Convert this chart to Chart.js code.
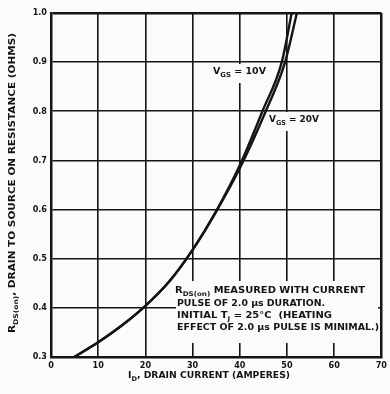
<!DOCTYPE html>
<html>
<head>
<meta charset="utf-8">
<script src="https://cdn.jsdelivr.net/npm/chart.js@4.4.0/dist/chart.umd.min.js"></script>
<style>
  html, body { margin: 0; padding: 0; background: #fbfbfb; }
  #wrap { width: 390px; height: 394px; position: relative; }
</style>
</head>
<body>
<div id="wrap"><canvas id="rdsChart"></canvas></div>
<script>
// axis ranges
const currentTicks = [0, 10, 20, 30, 40, 50, 60, 70];
const resistanceTicks = [0.3, 0.4, 0.5, 0.6, 0.7, 0.8, 0.9, 1.0];

// VGS = 10V curve (amps, ohms)
const current10V = [4.9, 10, 15, 20, 25, 30, 35, 40, 44.8, 48.9, 51.0];
const rds10V = [0.30, 0.330, 0.364, 0.404, 0.453, 0.518, 0.597, 0.690, 0.800, 0.900, 1.00];

// VGS = 20V curve
const current20V = [4.9, 10, 15, 20, 25, 30, 35, 40, 45.5, 49.6, 52.1];
const rds20V = [0.30, 0.330, 0.364, 0.404, 0.453, 0.518, 0.596, 0.684, 0.800, 0.900, 1.00];

const noteLines = [
  [{ t: 'R' }, { t: 'DS(on)', sub: true }, { t: ' MEASURED WITH CURRENT' }],
  [{ t: 'PULSE OF 2.0 \u00b5s DURATION.' }],
  [{ t: 'INITIAL T' }, { t: 'J', sub: true }, { t: ' = 25\u00b0C  (HEATING' }],
  [{ t: 'EFFECT OF 2.0 \u00b5s PULSE IS MINIMAL.)' }]
];

const FONT = '"DejaVu Sans Condensed", "Liberation Sans Narrow", sans-serif';
const INK = '#141414';
const PAPER = '#fbfbfb';

function toPoints(xs, ys) {
  return xs.map((x, i) => ({ x: x, y: ys[i] }));
}

// text with subscripts, squeezed or stretched to a target width
function drawRich(ctx, parts, x, y, size, width, align) {
  let w = 0;
  parts.forEach(p => {
    ctx.font = 'bold ' + (p.sub ? size * 0.72 : size) + 'px ' + FONT;
    w += ctx.measureText(p.t).width;
  });
  const sx = width ? width / w : 1;
  ctx.save();
  ctx.translate(align === 'center' ? x - (w * sx) / 2 : x, y);
  ctx.scale(sx, 1);
  ctx.fillStyle = INK;
  ctx.textBaseline = 'middle';
  ctx.textAlign = 'left';
  let cx = 0;
  parts.forEach(p => {
    ctx.font = 'bold ' + (p.sub ? size * 0.72 : size) + 'px ' + FONT;
    ctx.fillText(p.t, cx, p.sub ? size * 0.32 : 0);
    cx += ctx.measureText(p.t).width;
  });
  ctx.restore();
}

const labelsPlugin = {
  id: 'labels',
  beforeDatasetsDraw(chart) {
    const ctx = chart.ctx;
    ctx.save();
    // blank areas where the grid is broken by the labels
    ctx.fillStyle = PAPER;
    ctx.fillRect(210, 64, 58, 19);
    ctx.fillRect(267, 112, 53, 19);
    ctx.fillRect(176, 281, 202, 62);

    drawRich(ctx, [{ t: 'V' }, { t: 'GS', sub: true }, { t: ' = 10V' }], 213, 72, 9.5, 53);
    drawRich(ctx, [{ t: 'V' }, { t: 'GS', sub: true }, { t: ' = 20V' }], 269, 120, 9.5, 50);

    const ys = [291, 304, 316, 328];
    const xs = [175, 177, 177, 177];
    const ws = [190, 148, 155, 202];
    noteLines.forEach((line, i) => drawRich(ctx, line, xs[i], ys[i], 9, ws[i]));
    ctx.restore();
  },
  afterDraw(chart) {
    const ctx = chart.ctx;
    ctx.save();
    // x title
    drawRich(ctx, [{ t: 'I' }, { t: 'D', sub: true }, { t: ', DRAIN CURRENT (AMPERES)' }], 209, 376, 9, 162, 'center');
    // y title, rotated
    ctx.translate(13, 183);
    ctx.rotate(-Math.PI / 2);
    drawRich(ctx, [{ t: 'R' }, { t: 'DS(on)', sub: true }, { t: ', DRAIN TO SOURCE ON RESISTANCE (OHMS)' }], 0, 0, 9, 300, 'center');
    ctx.restore();
  }
};

new Chart(document.getElementById('rdsChart'), {
  type: 'scatter',
  data: {
    datasets: [
      {
        label: 'VGS = 10V',
        data: toPoints(current10V, rds10V),
        showLine: true,
        borderColor: INK,
        borderWidth: 2.4,
        pointRadius: 0,
        cubicInterpolationMode: 'monotone'
      },
      {
        label: 'VGS = 20V',
        data: toPoints(current20V, rds20V),
        showLine: true,
        borderColor: INK,
        borderWidth: 2.4,
        pointRadius: 0,
        cubicInterpolationMode: 'monotone'
      }
    ]
  },
  options: {
    responsive: true,
    maintainAspectRatio: false,
    animation: false,
    layout: { padding: { top: 13, right: 8, left: 0, bottom: 0 } },
    plugins: {
      legend: { display: false },
      tooltip: { enabled: false }
    },
    scales: {
      x: {
        type: 'linear',
        min: currentTicks[0],
        max: currentTicks[currentTicks.length - 1],
        afterFit: s => { s.height = 37; },
        afterBuildTicks: s => { s.ticks = currentTicks.map(v => ({ value: v })); },
        ticks: {
          color: INK,
          padding: 3,
          font: { family: FONT, size: 9, weight: 'bold' },
          callback: v => String(v)
        },
        grid: {
          color: INK,
          drawTicks: false,
          lineWidth: c => (c.tick && c.tick.value === 70 ? 2.5 : 1.6)
        },
        border: { display: true, color: INK, width: 2.5 }
      },
      y: {
        type: 'linear',
        min: resistanceTicks[0],
        max: resistanceTicks[resistanceTicks.length - 1],
        afterFit: s => { s.width = 51; },
        afterBuildTicks: s => { s.ticks = resistanceTicks.map(v => ({ value: v })); },
        ticks: {
          color: INK,
          padding: 4,
          font: { family: FONT, size: 9, weight: 'bold' },
          callback: v => Number(v).toFixed(1)
        },
        grid: {
          color: INK,
          drawTicks: false,
          lineWidth: c => (c.tick && Math.abs(c.tick.value - 1.0) < 1e-6 ? 2.5 : 1.6)
        },
        border: { display: true, color: INK, width: 2.5 }
      }
    }
  },
  plugins: [labelsPlugin]
});
</script>
</body>
</html>
